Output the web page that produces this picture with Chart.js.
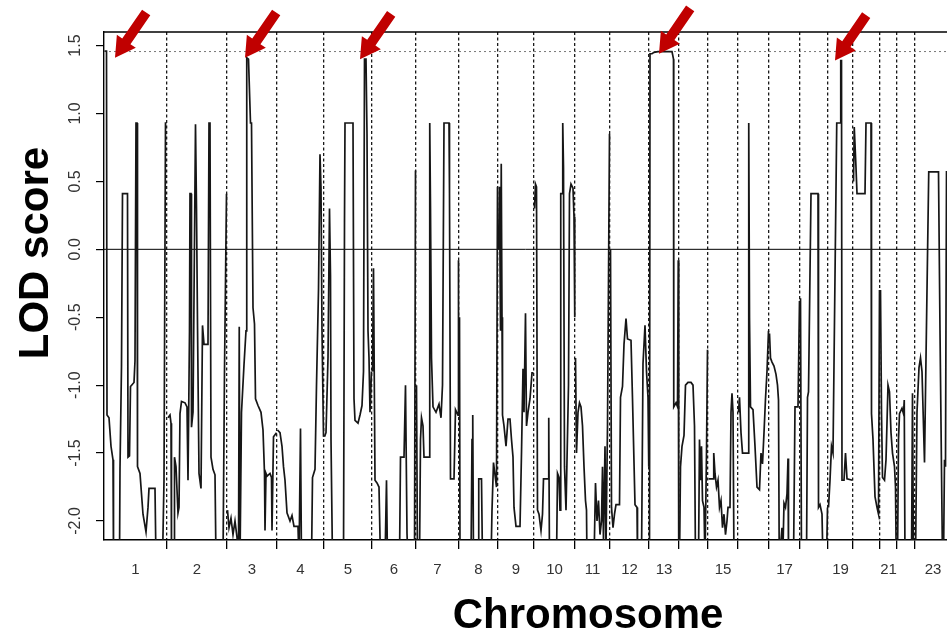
<!DOCTYPE html>
<html><head><meta charset="utf-8">
<script src="https://cdn.jsdelivr.net/npm/chart.js@4"></script>
<style>html,body{margin:0;padding:0;background:#fff}canvas{display:block}</style>
</head><body>
<canvas id="c" width="947" height="632"></canvas>
<script>
// ---------- data ----------
const chrNames = ['1','2','3','4','5','6','7','8','9','10','11','12','13','14','15','16','17','18','19','20','21','22','23'];
const chrLengths = [252,240,200,188,192,176,172,156,144,164,140,156,120,116,120,124,124,112,100,108,68,72,144]; // cM
const chrLabelShown = [1,1,1,1,1,1,1,1,1,1,1,1,1,0,1,0,1,0,1,0,1,0,1];
const yTickValues = [-2,-1.5,-1,-0.5,0,0.5,1,1.5];
const thresholdLOD = 1.456;
const xMaxCM = 3372;
const yMin = -2.14, yMax = 1.6;
const arrowPos = [44,564,1024,2220,2924];
const arrowLOD = [1.41,1.41,1.40,1.44,1.39];

// LOD profile per chromosome: [position within chromosome (cM), LOD]
const chr1 = [[2,1.46],[10,1.46],[12,-1.22],[20,-1.24],[28,-1.45],[36,-1.55],[38,-2.3],[62,-2.3],[64,-1.61],[70,-0.86],[74,0.41],[94,0.41],[96,-1.53],[102,-1.52],[106,-1.01],[120,-0.98],[124,-0.82],[128,0.93],[132,0.93],[134,-1.6],[144,-1.65],[156,-1.95],[168,-2.08],[176,-1.9],[180,-1.76],[204,-1.76],[208,-2.3],[234,-2.3],[240,-1.7],[246,0.93],[250,0.93]];
const chr2 = [[4,-1.24],[12,-1.22],[16,-1.28],[18,-2.3],[28,-2.3],[30,-1.53],[36,-1.6],[44,-1.94],[48,-1.9],[52,-1.21],[58,-1.12],[72,-1.13],[80,-1.16],[84,-1.7],[90,-0.6],[92,0.41],[96,0.41],[98,-1.31],[104,-1.2],[114,0.92],[118,0.3],[122,-0.55],[128,-1.65],[136,-1.76],[142,-0.56],[148,-0.7],[164,-0.7],[168,0.93],[172,0.93],[176,-1.53],[184,-1.62],[192,-1.66],[196,-2.3],[224,-2.3],[230,-0.89],[238,0.41]];
const chr3 = [[2,-1.92],[8,-2.05],[16,-1.98],[24,-2.1],[32,-2.0],[40,-2.12],[46,-2.3],[49,-0.57],[52,-2.3],[58,-1.2],[68,-0.85],[76,-0.6],[79,1.41],[86,1.40],[94,0.93],[98,0.93],[104,-0.43],[110,-0.55],[114,-1.1],[124,-1.15],[136,-1.2],[144,-1.33],[150,-1.65],[152,-2.07],[156,-1.65],[160,-1.67],[172,-1.65],[178,-1.68],[180,-2.07],[186,-1.38],[198,-1.35]];
const chr4 = [[2,-1.33],[12,-1.35],[20,-1.45],[26,-1.6],[32,-1.7],[40,-1.94],[52,-2.0],[60,-1.96],[68,-2.04],[84,-2.04],[88,-2.3],[94,-1.32],[98,-2.3],[138,-2.3],[142,-1.68],[152,-1.62],[158,-1.0],[166,-0.3],[172,0.70],[176,0.45],[180,-0.6],[186,-1.38]];
const chr5 = [[2,-1.38],[8,-1.35],[16,-0.8],[22,0.30],[26,-0.2],[28,-1.4],[34,-2.3],[78,-2.3],[82,0.2],[84,0.93],[116,0.93],[120,-1.1],[124,-1.26],[136,-1.28],[144,-1.22],[152,-1.15],[158,-0.9],[162,1.40],[168,1.40],[172,0.85],[176,-0.6],[180,-0.8],[184,-1.2],[190,-0.9]];
const chr6 = [[2,-0.9],[6,-0.14],[12,-1.7],[20,-1.72],[28,-1.75],[34,-2.3],[52,-2.3],[58,-1.70],[62,-2.3],[110,-2.3],[114,-1.53],[128,-1.53],[134,-1.0],[140,-2.09],[144,-2.3],[170,-2.3],[174,0.58]];
const chr7 = [[2,-1.0],[6,-2.3],[14,-2.3],[18,-1.4],[22,-1.24],[28,-1.3],[32,-1.53],[52,-1.53],[55,0.93],[58,0.3],[62,-0.8],[68,-1.16],[80,-1.2],[92,-1.14],[100,-1.24],[106,-1.0],[112,0.93],[132,0.93],[134,0.41],[138,-1.69],[152,-1.69],[158,-1.18],[168,-1.22],[170,-0.08]];
const chr8 = [[2,-0.5],[4,-2.3],[48,-2.3],[52,-1.4],[55,-1.22],[58,-2.3],[76,-2.3],[79,-1.69],[90,-1.69],[94,-2.3],[128,-2.3],[132,-1.92],[138,-1.57],[144,-1.66],[150,-1.75],[154,0.46]];
const chr9 = [[2,0.0],[6,0.46],[10,-0.6],[13,0.63],[16,-0.5],[18,-1.22],[24,-1.3],[32,-1.45],[40,-1.25],[48,-1.25],[54,-1.4],[60,-1.53],[64,-1.9],[72,-2.04],[88,-2.04],[94,-1.5],[100,-0.88],[104,-1.2],[110,-0.47],[114,-1.3],[120,-1.2],[128,-1.1],[136,-0.91],[142,-0.91]];
const chr10 = [[2,0.3],[6,0.48],[10,0.46],[14,-1.92],[20,-1.95],[28,-2.07],[34,-1.95],[38,-1.69],[56,-1.69],[59,-1.24],[62,-2.3],[90,-2.3],[94,-1.65],[100,-1.68],[104,-1.92],[107,0.41],[112,0.41],[115,0.93],[118,0.6],[122,-1.6],[128,-1.92],[138,-1.0],[142,0.41],[148,0.48],[156,0.45],[160,0.24],[163,-0.5]];
const chr11 = [[2,-0.8],[6,-1.5],[12,-1.2],[18,-1.13],[24,-1.16],[30,-1.3],[36,-1.6],[42,-1.85],[46,-1.92],[48,-2.3],[76,-2.3],[82,-1.72],[88,-2.0],[94,-1.85],[100,-2.1],[106,-2.0],[110,-1.6],[114,-2.15],[120,-1.45],[124,-2.2],[130,-1.3],[138,0.85]];
const chr12 = [[2,0.0],[6,-1.9],[12,-2.05],[18,-1.95],[24,-1.88],[38,-1.88],[42,-1.09],[50,-1.01],[56,-0.7],[64,-0.51],[70,-0.66],[84,-0.67],[90,-1.1],[100,-1.88],[108,-1.9],[110,-2.3],[126,-2.3],[132,-0.84],[140,-0.56],[146,-0.9],[152,-1.09],[155,-1.6]];
const chr13 = [[2,-2.3],[4,1.44],[12,1.44],[20,1.45],[36,1.456],[92,1.456],[98,1.4],[99,-1.16],[108,-1.13],[114,-1.16],[117,-0.08],[119,-2.3]];
const chr14 = [[2,-2.3],[6,-1.6],[12,-1.45],[20,-1.37],[26,-1.0],[36,-0.98],[48,-0.98],[56,-1.0],[62,-1.3],[66,-2.3],[78,-2.3],[82,-1.40],[86,-1.7],[90,-1.45],[94,-1.85],[100,-1.9],[104,-2.3],[110,-1.5],[114,-0.74]];
const chr15 = [[2,-1.69],[20,-1.69],[23,-1.5],[28,-1.65],[34,-1.75],[40,-1.7],[46,-1.9],[52,-1.85],[58,-2.05],[64,-1.95],[70,-2.1],[76,-2.0],[80,-1.9],[88,-1.9],[92,-1.2],[96,-1.06],[100,-1.2],[104,-2.3],[118,-2.3]];
const chr16 = [[2,-1.2],[6,-1.09],[12,-1.35],[18,-1.5],[40,-1.5],[43,0.93],[46,-0.5],[50,-1.16],[60,-1.18],[68,-1.45],[76,-1.75],[86,-1.77],[92,-1.5],[98,-1.58],[104,-1.35],[110,-1.1],[116,-0.9],[122,-0.6]];
const chr17 = [[2,-0.62],[6,-0.8],[12,-0.83],[20,-0.86],[28,-0.92],[34,-1.0],[38,-1.11],[41,-2.3],[52,-2.05],[56,-2.2],[60,-1.87],[66,-1.9],[72,-1.8],[76,-1.54],[78,-2.3],[98,-2.3],[104,-1.16],[116,-1.16],[122,-0.38]];
const chr18 = [[2,-0.36],[6,-2.3],[26,-2.3],[30,-1.09],[34,-1.05],[44,0.41],[72,0.41],[74,-1.9],[80,-1.88],[88,-1.95],[92,-2.3],[106,-2.3],[110,-1.9]];
const chr19 = [[2,-1.9],[8,-1.7],[14,-1.45],[20,-1.5],[28,-0.2],[35,0.93],[50,0.93],[51,1.39],[54,1.39],[56,-1.7],[64,-1.7],[70,-1.5],[76,-1.69],[98,-1.7]];
const chr20 = [[2,0.5],[5,0.90],[12,0.6],[16,0.41],[48,0.41],[52,0.93],[72,0.93],[74,-1.21],[80,-1.4],[88,-1.82],[96,-1.9],[102,-1.95],[106,-0.30]];
const chr21 = [[2,-0.30],[6,-1.2],[10,-1.68],[18,-1.7],[24,-1.55],[32,-1.0],[38,-1.05],[44,-1.35],[50,-1.5],[58,-1.6],[62,-1.75],[65,-2.3]];
const chr22 = [[2,-2.3],[6,-1.4],[10,-1.21],[20,-1.17],[26,-1.21],[29,-1.11],[32,-2.3],[58,-2.3],[62,-1.06],[66,-2.3]];
const chr23 = [[2,-2.3],[8,-1.2],[16,-0.87],[22,-0.8],[28,-0.9],[34,-1.3],[38,-1.57],[44,-0.8],[55,0.57],[94,0.57],[100,-0.6],[110,-2.3],[114,-2.3],[118,-1.55],[122,-1.6],[126,0.57],[140,0.57]];

// ---------- build ----------
const profiles = [chr1,chr2,chr3,chr4,chr5,chr6,chr7,chr8,chr9,chr10,chr11,chr12,chr13,chr14,chr15,chr16,chr17,chr18,chr19,chr20,chr21,chr22,chr23];
const chrStarts = [];
{ let acc = 0; chrLengths.forEach(l => { chrStarts.push(acc); acc += l; }); }

const FONT = '"Liberation Sans", Arial, Helvetica, sans-serif';
Chart.defaults.font.family = FONT;

const datasets = profiles.map((p, i) => ({
  label: 'chr' + chrNames[i],
  data: p.map(([pos, lod]) => ({x: chrStarts[i] + pos, y: lod})),
  borderColor: '#161616', borderWidth: 1.7, pointRadius: 0, tension: 0, fill: false
}));
datasets.push({label: 'zero', data: [{x: 0, y: 0}, {x: xMaxCM, y: 0}], borderColor: '#000', borderWidth: 1, pointRadius: 0});
datasets.push({label: 'threshold', data: [{x: 0, y: thresholdLOD}, {x: xMaxCM, y: thresholdLOD}], borderColor: '#777', borderWidth: 1, borderDash: [2, 3], pointRadius: 0});

const framePlugin = {
  id: 'frame',
  afterDatasetsDraw(chart) {
    const {ctx, chartArea: a, scales: {x, y}} = chart;
    ctx.save();
    ctx.strokeStyle = '#000'; ctx.lineWidth = 1.4;
    ctx.beginPath(); ctx.moveTo(a.left, a.top); ctx.lineTo(a.right, a.top); ctx.stroke();
    // arrows
    ctx.fillStyle = '#c00000';
    const ux = 0.567, uy = -0.824, px = -uy, py = ux;
    const L = 55, H = 20, hw = 11.5, sw = 5;
    arrowPos.forEach((p, i) => {
      const tx = x.getPixelForValue(p), ty = y.getPixelForValue(arrowLOD[i]);
      const P = (d, w) => [tx + ux * d + px * w, ty + uy * d + py * w];
      const pts = [P(0, 0), P(H, hw), P(H, sw), P(L, sw), P(L, -sw), P(H, -sw), P(H, -hw)];
      ctx.beginPath();
      pts.forEach((q, k) => k ? ctx.lineTo(q[0], q[1]) : ctx.moveTo(q[0], q[1]));
      ctx.closePath(); ctx.fill();
    });
    ctx.restore();
  },
  afterDraw(chart) {
    const {ctx} = chart;
    ctx.save();
    ctx.fillStyle = '#000';
    ctx.font = 'bold 42px ' + FONT;
    ctx.textAlign = 'center'; ctx.textBaseline = 'alphabetic';
    ctx.fillText('Chromosome', 588, 628);
    ctx.translate(48, 253); ctx.rotate(-Math.PI / 2);
    ctx.fillText('LOD score', 0, 0);
    ctx.restore();
  }
};

new Chart(document.getElementById('c'), {
  type: 'line',
  data: {datasets},
  plugins: [framePlugin],
  options: {
    responsive: false, animation: false, events: [],
    layout: {padding: {top: 32, left: 0, right: 0, bottom: 0}},
    plugins: {legend: {display: false}, tooltip: {enabled: false}},
    scales: {
      x: {
        type: 'linear', min: 0, max: xMaxCM,
        afterBuildTicks(s) {
          const t = [];
          chrStarts.forEach((st, i) => {
            if (i > 0 && st <= xMaxCM) t.push({value: st, boundary: true, chr: i});
            const mid = st + chrLengths[i] / 2;
            if (mid <= xMaxCM) t.push({value: mid, boundary: false, chr: i});
          });
          t.sort((a, b) => a.value - b.value);
          s.ticks = t;
        },
        afterFit(s) { s.height = 92; s.paddingLeft = 0; s.paddingRight = 0; },
        ticks: {
          autoSkip: false, maxRotation: 0, minRotation: 0, padding: 12,
          color: '#333', font: {size: 15},
          callback(v, i, ticks) { const tk = ticks[i]; return (tk.boundary || !chrLabelShown[tk.chr]) ? '' : chrNames[tk.chr]; }
        },
        grid: {
          drawOnChartArea: true, drawTicks: true, tickLength: 9, lineWidth: 1.3,
          color: c => (c.tick && c.tick.boundary) ? '#1a1a1a' : 'rgba(0,0,0,0)',
          tickColor: c => (c.tick && c.tick.boundary) ? '#000' : 'rgba(0,0,0,0)'
        },
        border: {display: true, color: '#000', width: 1.4, dash: [3, 2.5]}
      },
      y: {
        type: 'linear', min: yMin, max: yMax,
        afterBuildTicks(s) { s.ticks = yTickValues.map(v => ({value: v})); },
        afterFit(s) { s.width = 104; s.paddingTop = 0; s.paddingBottom = 0; },
        ticks: {
          minRotation: 90, maxRotation: 90, crossAlign: 'center', padding: 7,
          color: '#333', font: {size: 16},
          callback: v => Number(v).toFixed(1)
        },
        grid: {drawOnChartArea: false, drawTicks: true, tickLength: 8, tickColor: '#000', lineWidth: 1.2},
        border: {display: true, color: '#000', width: 1.4}
      }
    }
  }
});
</script>
</body></html>
